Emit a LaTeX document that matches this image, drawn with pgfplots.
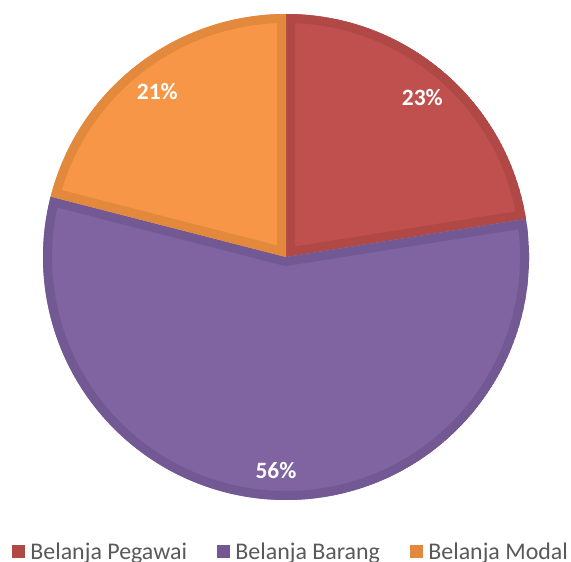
\documentclass[border=0pt]{standalone}
\usepackage{fontspec}
\setmainfont{Carlito}
\usepackage{pgfplots}
\usepackage{pgfplotstable}
\pgfplotsset{compat=1.18}
\definecolor{pegM}{HTML}{C0504D}
\definecolor{pegD}{HTML}{B04845}
\definecolor{barM}{HTML}{8064A2}
\definecolor{barD}{HTML}{735994}
\definecolor{modM}{HTML}{F79646}
\definecolor{modD}{HTML}{E2893D}
\definecolor{txt}{HTML}{595959}

\pgfplotstableread{
name value
Pegawai 22.5
Barang 56.5
Modal 21.0
}\piedata

\newcommand\slicepath[2]{(axis cs:286,305) -- ++(#1:243bp) arc[start angle=#1, end angle=#2, radius=243bp] -- cycle}
\newcommand\slice[4]{%
  \begin{scope}
    \clip \slicepath{#1}{#2};
    \fill[#3] \slicepath{#1}{#2};
    \draw[#4, line width=18bp] \slicepath{#1}{#2};
  \end{scope}}

\begin{document}
\begin{tikzpicture}
\pgfplotstablegetelem{0}{value}\of\piedata \let\vA\pgfplotsretval
\pgfplotstablegetelem{1}{value}\of\piedata \let\vB\pgfplotsretval
\pgfplotstablegetelem{2}{value}\of\piedata \let\vC\pgfplotsretval
\pgfmathsetmacro\aA{90}
\pgfmathsetmacro\aB{90-3.6*\vA}
\pgfmathsetmacro\aC{\aB-3.6*\vB}
\pgfmathsetmacro\aD{\aC-3.6*\vC}
\pgfmathsetmacro\mA{(\aA+\aB)/2}
\pgfmathsetmacro\mB{(\aB+\aC)/2}
\pgfmathsetmacro\mC{(\aC+\aD)/2}
\begin{axis}[name=ax, scale only axis, width=571bp, height=562bp,
  xmin=0, xmax=571, ymin=0, ymax=562, hide axis, clip=false,
  legend columns=3, legend cell align=left,
  legend style={draw=none, fill=none, inner sep=0pt, outer sep=0pt,
    at={(axis cs:12,1.5)}, anchor=south west,
    font=\fontsize{24}{28}\selectfont, text=txt, nodes={inner sep=0pt},
    /tikz/every odd column/.style={column sep=6bp},
    /tikz/every even column/.style={column sep=30bp}},
  legend image code/.code={\fill[#1] (0bp,-6bp) rectangle (12bp,6bp);}]
\addlegendimage{pegD}\addlegendentry{Belanja Pegawai}
\addlegendimage{barD}\addlegendentry{Belanja Barang}
\addlegendimage{modD}\addlegendentry{Belanja Modal}
\slice{\aA}{\aB}{pegM}{pegD}
\slice{\aB}{\aC}{barM}{barD}
\slice{\aC}{\aD}{modM}{modD}
\path (axis cs:286,305) ++(\mA:210bp) node[text=white, font=\fontsize{23.5}{28}\selectfont\bfseries] {23\%};
\path (axis cs:286,305) ++(\mB:214bp) node[text=white, font=\fontsize{23.5}{28}\selectfont\bfseries] {56\%};
\path (axis cs:286,305) ++(\mC:210bp) node[text=white, font=\fontsize{23.5}{28}\selectfont\bfseries] {21\%};
\end{axis}
\pgfresetboundingbox
\path (ax.south west) rectangle (ax.north east);
\end{tikzpicture}
\end{document}
